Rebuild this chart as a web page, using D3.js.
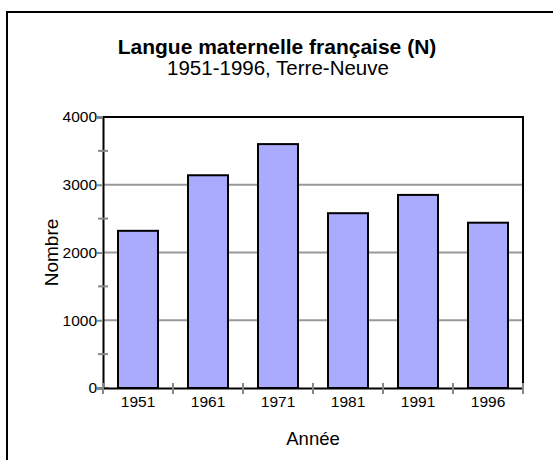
<!DOCTYPE html>
<html>
<head>
<meta charset="utf-8">
<script src="https://cdn.jsdelivr.net/npm/d3@7"></script>
<style>
	body { margin: 0; background: #fff; }
	svg { display: block; font-family: "Liberation Sans", Arial, sans-serif; }
	.tick text { font-size: 15.5px; fill: #000; }
</style>
</head>
<body>
<svg id="chart" width="553" height="460"></svg>
<script>
'use strict';

const years = ['1951', '1961', '1971', '1981', '1991', '1996'];
const counts = [2320, 3140, 3600, 2580, 2850, 2440];
const yTicks = [0, 1000, 2000, 3000, 4000];
const yMinorTicks = [500, 1500, 2500, 3500];

const svg = d3.select('#chart'),
	margin = { top: 117, right: 30, bottom: 72, left: 103 },
	width = 553 - margin.left - margin.right,
	height = 460 - margin.top - margin.bottom;

// outer frame (runs off the right and bottom of the picture)
svg.append('rect')
	.attr('x', 7).attr('y', 12)
	.attr('width', 560).attr('height', 470)
	.attr('fill', 'none')
	.attr('stroke', '#000')
	.attr('stroke-width', 2);

svg.append('text')
	.attr('x', 277).attr('y', 54)
	.attr('text-anchor', 'middle')
	.attr('font-size', 21)
	.attr('font-weight', 'bold')
	.text('Langue maternelle française (N)');

svg.append('text')
	.attr('x', 278).attr('y', 75)
	.attr('text-anchor', 'middle')
	.attr('font-size', 20.5)
	.text('1951-1996, Terre-Neuve');

const g = svg.append('g')
	.attr('transform', `translate(${margin.left},${margin.top})`);

const x = d3.scaleBand()
	.domain(years)
	.range([0, width])
	.paddingInner(30 / 70)
	.paddingOuter(15 / 70);

const y = d3.scaleLinear()
	.domain([0, 4000])
	.range([height, 0]);

// grid lines
g.selectAll('.grid').data(yTicks.filter(d => d > 0 && d < 4000)).enter().append('line')
	.attr('class', 'grid')
	.attr('x1', 0).attr('x2', width)
	.attr('y1', d => y(d)).attr('y2', d => y(d))
	.attr('stroke', '#999')
	.attr('stroke-width', 2);

// top and right frame of the plot
g.append('path')
	.attr('d', `M0,${y(4000)}H${width}V${height}`)
	.attr('fill', 'none')
	.attr('stroke', '#000')
	.attr('stroke-width', 2);

// bars
g.selectAll('.bar').data(years).enter().append('rect')
	.attr('class', 'bar')
	.attr('x', d => x(d))
	.attr('y', (d, i) => y(counts[i]))
	.attr('width', x.bandwidth())
	.attr('height', (d, i) => height - y(counts[i]))
	.attr('fill', '#aaaaff')
	.attr('stroke', '#000')
	.attr('stroke-width', 2);

// y axis
const yAxis = g.append('g')
	.call(d3.axisLeft(y).tickValues(yTicks).tickFormat(d3.format('d')).tickSize(6).tickPadding(0));
yAxis.select('.domain').attr('stroke', '#000').attr('stroke-width', 2);
yAxis.selectAll('.tick line').attr('stroke', '#888').attr('stroke-width', 2);

g.selectAll('.yminor').data(yMinorTicks).enter().append('line')
	.attr('class', 'yminor')
	.attr('x1', -5).attr('x2', 5)
	.attr('y1', d => y(d)).attr('y2', d => y(d))
	.attr('stroke', '#888')
	.attr('stroke-width', 2);

g.append('line')
	.attr('x1', 0).attr('x2', 6)
	.attr('y1', height).attr('y2', height)
	.attr('stroke', '#888')
	.attr('stroke-width', 2);

// x axis
const xAxis = g.append('g')
	.attr('transform', `translate(0,${height})`)
	.call(d3.axisBottom(x).tickSize(0).tickPadding(8));
xAxis.select('.domain').attr('stroke', '#000').attr('stroke-width', 2);

const step = x.step(),
	bounds = years.map(d => x(d) - (step - x.bandwidth()) / 2).concat([width]);
g.selectAll('.xtick').data(bounds).enter().append('line')
	.attr('class', 'xtick')
	.attr('x1', d => d).attr('x2', d => d)
	.attr('y1', height - 5).attr('y2', height + 6)
	.attr('stroke', '#888')
	.attr('stroke-width', 2);

// axis titles
svg.append('text')
	.attr('transform', `translate(58,${margin.top + height / 2}) rotate(-90)`)
	.attr('text-anchor', 'middle')
	.attr('font-size', 19)
	.text('Nombre');

svg.append('text')
	.attr('x', margin.left + width / 2).attr('y', 445)
	.attr('text-anchor', 'middle')
	.attr('font-size', 18.5)
	.text('Année');
</script>
</body>
</html>
